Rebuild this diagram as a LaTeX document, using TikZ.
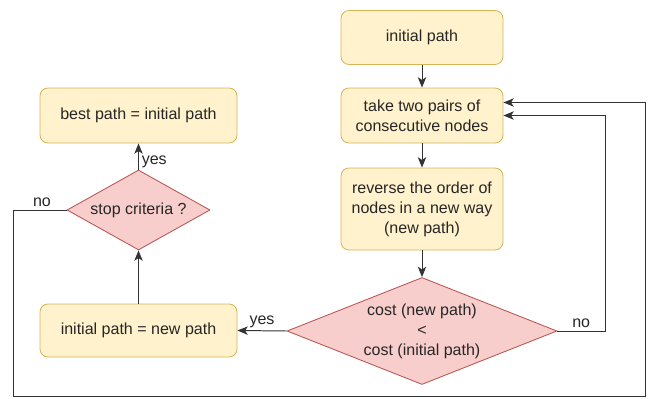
\documentclass[tikz,border=0pt]{standalone}
\usepackage{fontspec}
\setmainfont{Liberation Sans}
\usepackage{xcolor}
\usepackage{tikz}
\usetikzlibrary{shapes, arrows, positioning, arrows.meta, shapes.geometric}

\definecolor{amarilloFondo}{HTML}{FFF2CC}
\definecolor{amarilloBorde}{HTML}{D6B656}
\definecolor{rojoFondo}{HTML}{F8CECC}
\definecolor{rojoBorde}{HTML}{B85450}
\definecolor{linea}{HTML}{333333}

\tikzset{
    caja/.style={draw=amarilloBorde, fill=amarilloFondo, rounded corners=0.2cm,
        line width=0.6pt, align=center, inner sep=0pt},
    decision/.style={diamond, draw=rojoBorde, fill=rojoFondo, line width=0.6pt,
        align=center, inner sep=-4pt},
    flecha/.style={draw=linea, line width=0.7pt, -{Stealth[length=2.6mm, width=2.1mm, inset=0.7mm]}},
    etiqueta/.style={font=\fontsize{11.4}{14}\selectfont, text=black!85, inner sep=2pt}
}

\begin{document}
\begin{tikzpicture}[font=\fontsize{11.4}{14.2}\selectfont, text=black!85]
        \useasboundingbox (0,0) rectangle (16.225,9.95);
        % Columna derecha
        \node[caja, minimum width=4.05cm, minimum height=1.35cm] (init) at (10.55,9.0125) {initial path};
        \node[caja, minimum width=4.05cm, minimum height=1.375cm] (take) at (10.55,7.0625) {take two pairs of\\consecutive nodes};
        \node[caja, minimum width=4.05cm, minimum height=2.05cm] (rev) at (10.55,4.725) {reverse the order of\\nodes in a new way\\(new path)};
        \node[decision, minimum width=6.75cm, minimum height=2.675cm, aspect=2.5] (cost) at (10.55,1.675) {cost (new path)\\<\\cost (initial path)};
        % Columna izquierda
        \node[caja, minimum width=4.925cm, minimum height=1.375cm] (best) at (3.4625,7.0625) {best path = initial path};
        \node[decision, minimum width=3.575cm, minimum height=2.0cm, aspect=1.8] (stop) at (3.4625,4.7) {stop criteria ?};
        \node[caja, minimum width=4.925cm, minimum height=1.325cm] (newp) at (3.4625,1.6875) {initial path = new path};

        % Puntos de retorno
        \coordinate (izq) at (0.325,0.05);
        \coordinate (der) at (16.125,0.05);
        \coordinate (lazo) at (15.125,0);

        \draw[flecha] (init) -- (take);
        \draw[flecha] (take) -- (rev);
        \draw[flecha] (rev) -- (cost);
        \draw[flecha] (cost.west) -- node[etiqueta, above] {yes} (newp.east);
        \draw[flecha] (newp) -- (stop);
        \draw[flecha] (stop.north) -- node[etiqueta, right, pos=0.3] {yes} (best.south);
        \draw[flecha] (cost.east) -| node[etiqueta, above, pos=0.25] {no} (lazo |- take.east) -- (take.east);
        \draw[flecha] (stop.west) -| node[etiqueta, above, pos=0.23] {no} (izq) -- (der) |- ([yshift=0.325cm]take.east);
    \end{tikzpicture}
\end{document}
